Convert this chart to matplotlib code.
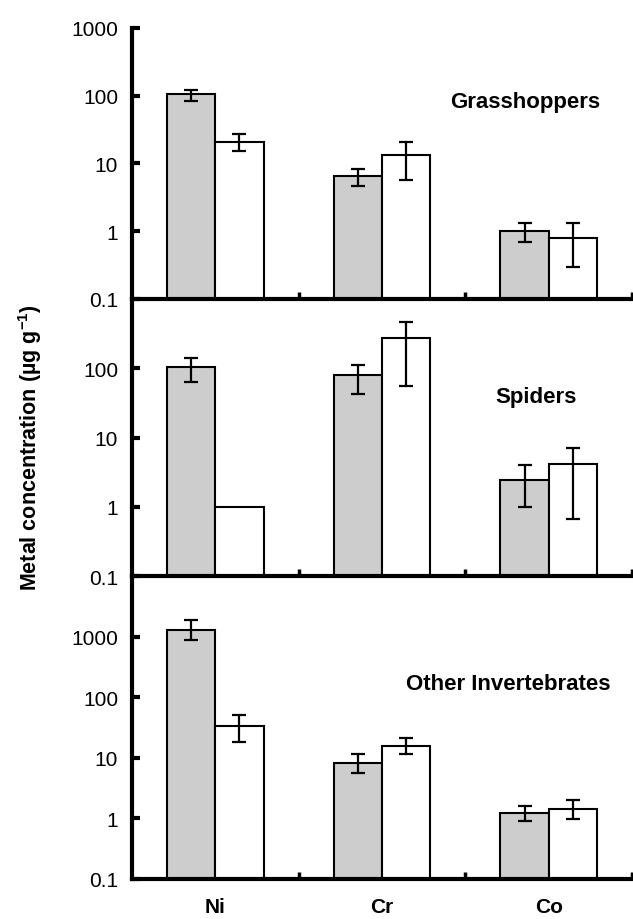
"""Metal concentrations in invertebrates: three stacked log-scale bar panels."""

import numpy as np
import matplotlib
matplotlib.use("Agg")
import matplotlib.pyplot as plt
from matplotlib.ticker import FixedLocator, FixedFormatter, NullLocator

plt.rcParams["font.family"] = ["Liberation Sans", "DejaVu Sans"]
plt.rcParams["mathtext.default"] = "regular"

metals = ["Ni", "Cr", "Co"]
groups = ["Grasshoppers", "Spiders", "Other Invertebrates"]

# shaded bars (mean, lower, upper)
grass_gray = [105, 6.5, 1.0]
grass_gray_lo = [84, 4.6, 0.69]
grass_gray_hi = [122, 8.2, 1.31]
# open bars
grass_white = [21, 13.2, 0.79]
grass_white_lo = [15, 5.6, 0.30]
grass_white_hi = [26.8, 20.5, 1.31]

spider_gray = [105, 79, 2.47]
spider_gray_lo = [62.5, 42, 1.0]
spider_gray_hi = [140, 110, 3.96]
spider_white = [1.0, 273, 4.1]
spider_white_lo = [np.nan, 55, 0.67]
spider_white_hi = [np.nan, 467, 7.0]

other_gray = [1300, 8.3, 1.21]
other_gray_lo = [890, 5.6, 0.89]
other_gray_hi = [1845, 11.6, 1.58]
other_white = [34, 15.8, 1.41]
other_white_lo = [17.9, 11.6, 0.96]
other_white_hi = [50, 21.5, 1.99]

panel_data = [
    (grass_gray, grass_gray_lo, grass_gray_hi, grass_white, grass_white_lo, grass_white_hi),
    (spider_gray, spider_gray_lo, spider_gray_hi, spider_white, spider_white_lo, spider_white_hi),
    (other_gray, other_gray_lo, other_gray_hi, other_white, other_white_lo, other_white_hi),
]

# (bottom, height) in figure fraction, y max, tick values, label position
layout = [
    (0.674, 0.2946, 1000, [0.1, 1, 10, 100, 1000], (0.786, 0.727)),
    (0.3728, 0.301, 1000, [0.1, 1, 10, 100], (0.808, 0.650)),
    (0.0435, 0.3294, 10000, [0.1, 1, 10, 100, 1000], (0.752, 0.644)),
]

GRAY = "#cdcdcd"
WIDTH = 0.29


def draw_errors(ax, x, mean, lo, hi):
    mean = np.asarray(mean, float)
    lo = np.asarray(lo, float)
    hi = np.asarray(hi, float)
    ok = ~np.isnan(lo)
    yerr = np.vstack([mean[ok] - lo[ok], hi[ok] - mean[ok]])
    ax.errorbar(x[ok], mean[ok], yerr=yerr, fmt="none", ecolor="black",
                elinewidth=1.6, capsize=4.8, capthick=1.6, zorder=3)


fig = plt.figure(figsize=(6.33, 9.2), dpi=100)
x = np.arange(len(metals))

for i, (name, data, (bottom, height, ymax, ticks, lab)) in enumerate(zip(groups, panel_data, layout)):
    ax = fig.add_axes([0.2085, bottom, 0.790, height])
    g, g_lo, g_hi, w, w_lo, w_hi = data
    ax.set_yscale("log")
    ax.bar(x - WIDTH / 2, g, WIDTH, color=GRAY, edgecolor="black", linewidth=1.5, zorder=2)
    ax.bar(x + WIDTH / 2, w, WIDTH, color="white", edgecolor="black", linewidth=1.5, zorder=2)
    draw_errors(ax, x - WIDTH / 2, g, g_lo, g_hi)
    draw_errors(ax, x + WIDTH / 2, w, w_lo, w_hi)

    ax.set_xlim(-0.5, 2.5)
    ax.set_ylim(0.1, ymax)
    ax.yaxis.set_major_locator(FixedLocator(ticks))
    ax.yaxis.set_major_formatter(FixedFormatter([f"{t:g}" for t in ticks]))
    ax.yaxis.set_minor_locator(NullLocator())
    ax.tick_params(axis="y", direction="in", length=6, width=3, labelsize=15, pad=10)

    ax.xaxis.set_major_locator(FixedLocator([0.5, 1.5, 2.5]))
    ax.xaxis.set_major_formatter(FixedFormatter(["", "", ""]))
    ax.tick_params(axis="x", which="major", direction="in", length=5, width=2.5)
    if i == 2:
        ax.xaxis.set_minor_locator(FixedLocator(x))
        ax.xaxis.set_minor_formatter(FixedFormatter(metals))
        ax.tick_params(axis="x", which="minor", length=0, pad=13, labelsize=15)
        for t in ax.get_xticklabels(minor=True):
            t.set_fontweight("bold")
    else:
        ax.xaxis.set_minor_locator(NullLocator())

    for side in ("top", "right"):
        ax.spines[side].set_visible(False)
    ax.spines["left"].set_linewidth(3)
    ax.spines["bottom"].set_linewidth(3)
    ax.patch.set_alpha(0)

    ax.text(lab[0], lab[1], name, transform=ax.transAxes, ha="center", va="center",
            fontsize=16, fontweight="bold")

fig.text(0.047, 0.514, "Metal concentration (µg g$^{-1}$)", rotation=90,
         ha="center", va="center", fontsize=15.5, fontweight="bold")

fig.savefig("out.png", dpi=100)
